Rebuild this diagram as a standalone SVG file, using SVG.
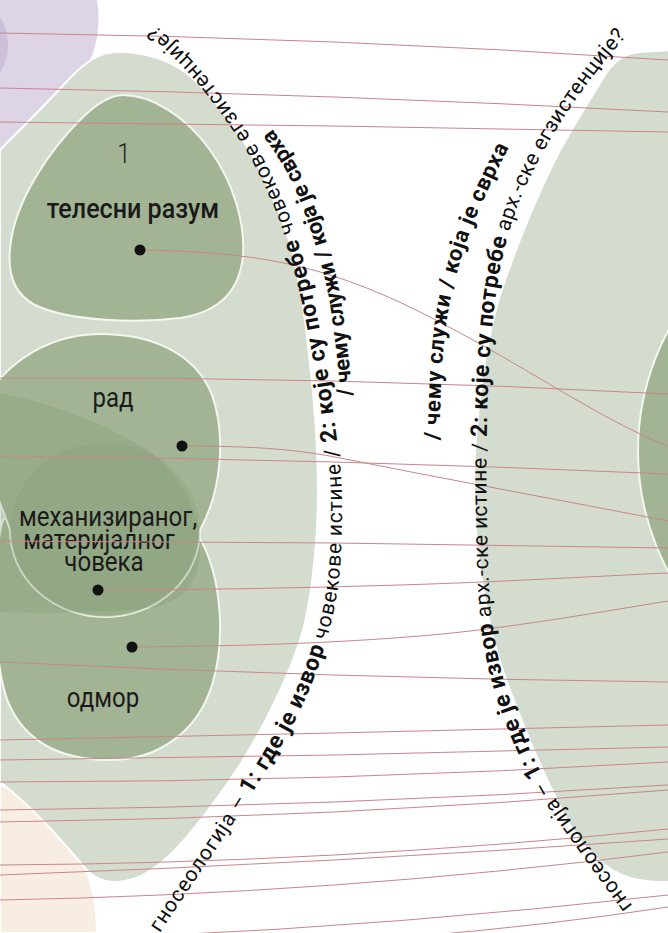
<svg xmlns="http://www.w3.org/2000/svg" width="668" height="933" viewBox="0 0 668 933">
<defs>
<style>
.lg{fill:#d3dccf;stroke:#ffffff;stroke-width:2}
.mg{fill:#a2b494;stroke:#f4f6f0;stroke-width:2}
.ln{fill:none;stroke:#c98688;stroke-width:1}
.dot{fill:#111}
.lbl{font-family:Roboto,"Liberation Sans",sans-serif;font-size:27px;fill:#1a1a1a;text-anchor:middle}
.arc{font-family:Roboto,"Liberation Sans",sans-serif;font-size:21px;fill:#111}
.b{font-weight:700;font-size:23px}
.b2{font-weight:700;font-size:22px}
</style>
<path id="lp" d="M125,990 C131,980 139.5,964.7 160,933 C180.5,901.3 223.8,838.8 248,800 C272.2,761.2 290.3,733.3 305,700 C319.7,666.7 329.8,633.3 336,600 C342.2,566.7 342,531.7 342,500 C342,468.3 337,440 333,410 C329.7,380 323,345.8 318,320 C313,294.2 308,275 302,255 C296,235 291,218.3 283,200 C275,181.7 268,165.8 256,145 C242.5,124.2 222.7,95.8 205,75 C187.3,54.2 165.8,34.2 150,20 C135.8,5.8 117,-5 110,-10"/>
<path id="lp2" d="M360,580 C359.7,566.7 359.7,530 358,500 C357,470 355,433.3 353,400 C349.7,366.7 345.5,326.7 341,300 C336.5,273.3 331.7,259.2 326,240 C320,220.8 313.5,202.2 306,185 C298.5,167.8 289,152.3 278,137 C267.8,121.7 254.7,105.5 243,93 C231.3,80.5 214,66 208,62"/>
<path id="rp" d="M680,960 C673.3,952.5 655.8,935 640,915 C624.2,895 600.8,862.5 585,840 C569.2,817.5 557.5,803.3 545,780 C532.5,756.7 518.8,726.7 510,700 C501.2,673.3 495.8,650 492,620 C488.2,590 487.8,553.3 487,520 C486.2,486.7 486.2,451.7 487,420 C487.8,388.3 489.5,356.7 492,330 C494.5,303.3 497.3,281.7 502,260 C506.7,238.3 512,220 520,200 C528,180 538.3,160 550,140 C561.7,120 576.3,98.3 590,80 C603.7,61.7 619.5,43.3 632,30 C644.5,16.7 660,5 665,0"/>
<path id="rp2" d="M497,790 C492,777 476,735 468,713 C459.5,685.5 450.7,657 446,625 C441.3,593 441,555.3 440,521 C439,486.7 439,451.5 440,419 C441,386.5 442.2,353.8 446,326 C449.8,298.2 455.8,275 463,252 C470.2,229 479.2,209.3 489,188 C498.8,166.7 509.3,145.3 522,124 C534.7,102.7 552,77.7 565,60"/>
</defs>
<rect width="668" height="933" fill="#ffffff"/>

<g id="purple-area">
<path d="M0,0 L97,0 C102,30 95,60 75,85 C55,110 25,135 0,150 Z" fill="#ddd4e6"/>
<ellipse cx="-25" cy="45" rx="33" ry="42" fill="#cbbfd9"/>
</g>
<g id="peach-area">
<path d="M0,785 C25,795 55,820 75,850 C92,875 97,905 97,933 L0,933 Z" fill="#f8ede3" stroke="#fff" stroke-width="2"/>
</g>

<g id="left-field">
<path class="lg" d="M0,150 C25,125 50,100 70,78 C88,60 100,52 118,52 C140,52 165,58 185,72 C205,88 222,110 238,133 C252,153 268,185 280,215 C292,245 300,280 305,320 C311,370 318,430 318,490 C318,550 310,610 300,640 C290,672 268,720 240,765 C220,795 195,830 170,855 C150,873 135,882 115,882 C100,882 90,875 80,862 C60,838 30,805 0,782 Z"/>
</g>
<g id="right-field">
<path class="lg" d="M670,50 L640,52 C625,53 615,60 605,75 C590,100 570,130 555,160 C535,200 515,250 500,295 C485,345 475,420 474,480 C474,560 490,640 510,690 C525,730 545,780 570,825 C585,850 605,870 630,878 C645,882 655,882 670,882 Z"/>
</g>
<g id="right-circle">
<circle class="mg" cx="893" cy="451" r="255"/>
</g>

<g id="node-telesni">
<path class="mg" d="M123,95 C150,95 185,115 210,150 C235,185 245,225 243,255 C240,290 220,312 180,318 C140,323 70,322 35,305 C10,292 6,265 12,235 C20,195 50,150 80,120 C95,105 110,95 123,95 Z"/>
<text class="lbl" transform="translate(124,163) scale(0.89,1)" font-size="30" font-weight="300">1</text>
<text class="lbl" transform="translate(133,218) scale(0.93,1)" font-size="32" font-weight="500">телесни разум</text>
</g>

<g id="node-odmor">
<path class="mg" d="M3,520 C30,490 165,488 198,535 C222,575 226,640 212,685 C198,730 160,760 110,760 C60,760 25,742 8,702 C-8,660 -8,555 3,520 Z"/>
<text class="lbl" transform="translate(103,707) scale(0.89,1)">одмор</text>
</g>

<g id="node-rad">
<path class="mg" d="M-20,420 C-10,370 45,334 100,334 C150,334 195,352 212,395 C226,435 222,490 200,530 A95,87 0 0 1 10,530 C0,500 -20,460 -20,420 Z"/>
<text class="lbl" transform="translate(113,407) scale(0.89,1)">рад</text>
</g>

<g id="node-mehanizovan">
<ellipse cx="105" cy="530" rx="95" ry="87" fill="#8da47d" fill-opacity="0.35"/>
<path d="M0,393 C50,403 110,425 150,452 C185,478 200,515 200,548 C200,580 185,600 155,607 C100,614 40,613 0,612 Z" fill="#7a9568" fill-opacity="0.25"/>
<text class="lbl" transform="translate(108,526) scale(0.89,1)">механизираног,</text>
<text class="lbl" transform="translate(99,549) scale(0.89,1)">материјалног</text>
<text class="lbl" transform="translate(104,571) scale(0.89,1)">човека</text>
</g>

<g id="connectors">
<path class="ln" d="M0,33 Q334,37.5 668,60"/>
<path class="ln" d="M0,88 Q334,94 668,112"/>
<path class="ln" d="M0,122 Q334,125 668,132"/>
<path class="ln" d="M0,378 Q334,376 668,394"/>
<path class="ln" d="M0,456 Q334,459 668,474"/>
<path class="ln" d="M0,541 Q334,541.5 668,548"/>
<path class="ln" d="M0,662 Q334,678 668,682"/>
<path class="ln" d="M0,740 Q334,733.5 668,725"/>
<path class="ln" d="M0,760 Q334,756.5 668,747"/>
<path class="ln" d="M0,782 Q334,782 668,762"/>
<path class="ln" d="M0,810 Q334,806.5 668,785"/>
<path class="ln" d="M0,822 Q334,818 668,790"/>
<path class="ln" d="M0,865 Q334,863 668,829"/>
<path class="ln" d="M0,875 Q334,863 668,839"/>
<path class="ln" d="M0,900 Q334,894 668,852"/>
<path class="ln" d="M150,936 Q400,925 668,895"/>
<path class="ln" d="M420,936 Q550,925 668,907"/>
<path class="ln" d="M140,250 C250,252 320,262 420,312 C520,362 600,420 668,446"/>
<path class="ln" d="M182,446 C260,446 300,450 340,458 C450,480 560,500 668,521"/>
<path class="ln" d="M98,590 C200,590 300,588 400,585 S600,576 668,573"/>
<path class="ln" d="M132,647 C250,646 334,643 420,636 S600,612 668,601"/>
</g>

<g id="dots">
<circle class="dot" cx="140" cy="250" r="5.5"/>
<circle class="dot" cx="182" cy="446" r="5.5"/>
<circle class="dot" cx="98" cy="590" r="5.5"/>
<circle class="dot" cx="132" cy="647" r="5.5"/>
</g>

<g id="left-question">
<text class="arc"><textPath href="#lp" startOffset="67" textLength="1005">гносеологија – <tspan class="b">1: где је извор</tspan> човекове истине / <tspan class="b">2: које су потребе</tspan> човекове егзистенције?</textPath></text>
<text class="arc b2"><textPath href="#lp2" startOffset="185" textLength="282">/ чему служи / која је сврха</textPath></text>
</g>
<g id="right-question">
<text class="arc"><textPath href="#rp" startOffset="72" textLength="943">гносеологија – <tspan class="b">1: где је извор</tspan> арх.-ске истине / <tspan class="b">2: које су потребе</tspan> арх.-ске егзистенције?</textPath></text>
<text class="arc b2"><textPath href="#rp2" startOffset="358" textLength="305">/ чему служи / која је сврха</textPath></text>
</g>
</svg>
